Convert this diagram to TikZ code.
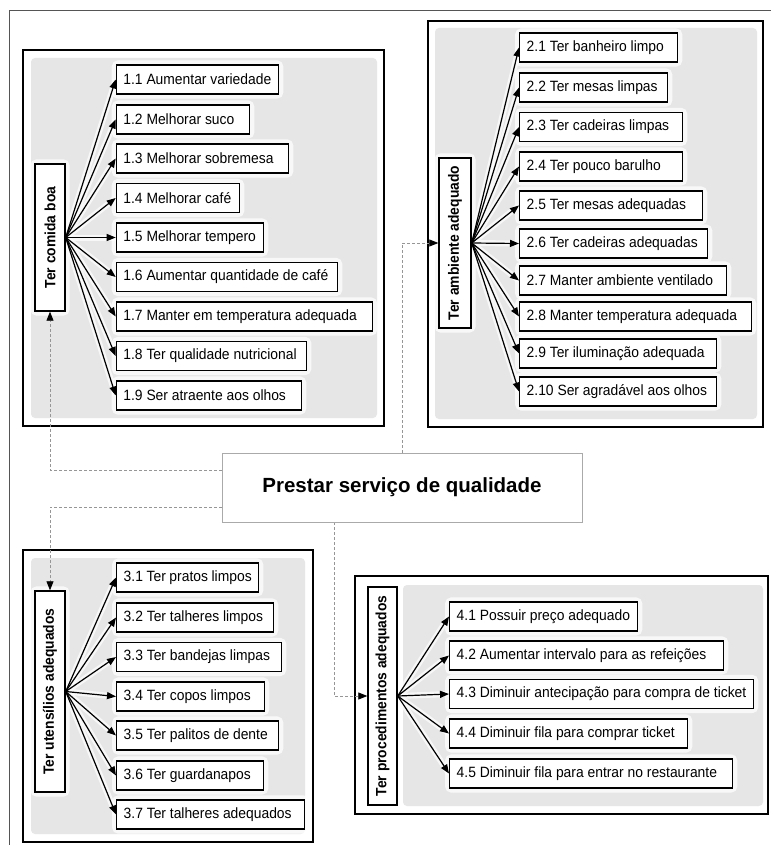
\documentclass[tikz,border=0pt]{standalone}
\usepackage{graphicx}
\usepackage{fontspec}
\setmainfont{Liberation Sans}
\newfontfamily\itemfont[FakeStretch=0.93]{Liberation Sans}
\usetikzlibrary{arrows.meta,calc}
\definecolor{panelgray}{RGB}{230,230,230}
\definecolor{conngray}{RGB}{150,150,150}
\definecolor{framegray}{RGB}{85,85,85}
\definecolor{titlegray}{RGB}{170,170,170}
\pgfdeclarelayer{bg}
\pgfdeclarelayer{halo}
\pgfdeclarelayer{arrowlayer}
\pgfsetlayers{bg,halo,arrowlayer,main}
\tikzset{
  itembox/.style={draw, fill=white, line width=1.4pt, minimum height=29pt,
    inner xsep=7pt, inner ysep=0pt, anchor=west,
    font={\itemfont\fontsize{14.9}{17}\selectfont}},
  vbox/.style={draw, fill=white, line width=1.4pt, inner sep=0pt,
    font={\itemfont\fontsize{14.9}{17}\selectfont\bfseries}},
  boxhalo/.style={draw=white, line width=8pt, opacity=0.75, rounded corners=3pt},
  arrhalo/.style={draw=white, line width=6pt, opacity=0.7},
  arr/.style={draw=black, line width=1.2pt, -{Triangle[length=9pt,width=7pt]}},
  conn/.style={draw=conngray, line width=0.8pt, dash pattern=on 3pt off 2pt,
    -{Triangle[length=9pt,width=7pt,black]}},
  panelborder/.style={draw=black, line width=2pt},
  panelfill/.style={fill=panelgray, rounded corners=4pt},
  titlebox/.style={draw=titlegray, line width=0.8pt, fill=white,
    minimum width=360pt, minimum height=69pt, inner sep=0pt,
    font={\fontsize{20.5}{24}\selectfont\bfseries}}
}
\begin{document}
\begin{tikzpicture}[x=1pt,y=-1pt]
\useasboundingbox (0,0) rectangle (771,845);
\begin{pgfonlayer}{bg}
\fill[white] (0,0) rectangle (771,845);
\draw[framegray, line width=1pt] (9,845) -- (9,11) -- (771,11);
% panels
\fill[panelfill] (31,58) rectangle (377,418);
\draw[panelborder] (23,50) rectangle (384,426);
\fill[panelfill] (435,28) rectangle (757,419);
\draw[panelborder] (428,21) rectangle (763,427);
\fill[panelfill] (31,558) rectangle (305,834);
\draw[panelborder] (23,550) rectangle (313,842);
\fill[panelfill] (403,585) rectangle (763,806);
\draw[panelborder] (355,576) rectangle (768,814);
\end{pgfonlayer}

% title
\node[titlebox] (T) at (402,487.5) {Prestar serviço de qualidade};

% vertical nodes
\node[vbox, minimum width=30pt, minimum height=147pt] (V1) at (50,237.5) {\rotatebox{90}{Ter comida boa}};
\node[vbox, minimum width=32pt, minimum height=170pt] (V2) at (455,243) {\rotatebox{90}{Ter ambiente adequado}};
\node[vbox, minimum width=30pt, minimum height=201pt] (V3) at (50,691.5) {\rotatebox{90}{Ter utensílios adequados}};
\node[vbox, minimum width=29pt, minimum height=218pt] (V4) at (382.5,696) {\rotatebox{90}{Ter procedimentos adequados}};
\begin{pgfonlayer}{halo}
\foreach \v in {V1,V2,V3,V4} {
  \draw[boxhalo] (\v.south west) rectangle (\v.north east);
}
\end{pgfonlayer}

% panel 1 items
\foreach \i/\cy/\r/\t in {
  1/79.5/278/{1.1 Aumentar variedade},
  2/119.5/249/{1.2 Melhorar suco},
  3/158.5/288/{1.3 Melhorar sobremesa},
  4/198/239/{1.4 Melhorar café},
  5/237.5/263/{1.5 Melhorar tempero},
  6/277/337/{1.6 Aumentar quantidade de café},
  7/316.5/372/{1.7 Manter em temperatura adequada},
  8/356/306/{1.8 Ter qualidade nutricional},
  9/395.5/301/{1.9 Ser atraente aos olhos}} {
  \pgfmathsetmacro\tw{\r-115.7-14}
  \node[itembox] (a\i) at (115.7,\cy) {\hbox to \tw pt{\t\hfil}};
  \begin{pgfonlayer}{halo}
    \draw[boxhalo] (a\i.south west) rectangle (a\i.north east);
    \draw[arrhalo] (V1.east) -- (a\i.west);
  \end{pgfonlayer}
  \begin{pgfonlayer}{arrowlayer}
    \draw[arr] (V1.east) -- (a\i.west);
  \end{pgfonlayer}
}

% panel 2 items
\foreach \i/\cy/\r/\t in {
  1/47.5/677/{2.1 Ter banheiro limpo},
  2/87.5/667/{2.2 Ter mesas limpas},
  3/127/682/{2.3 Ter cadeiras limpas},
  4/166.5/682/{2.4 Ter pouco barulho},
  5/205.5/702/{2.5 Ter mesas adequadas},
  6/243.5/707/{2.6 Ter cadeiras adequadas},
  7/280.5/726/{2.7 Manter ambiente ventilado},
  8/316.5/751/{2.8 Manter temperatura adequada},
  9/353.5/716/{2.9 Ter iluminação adequada},
  10/391.5/716/{2.10 Ser agradável aos olhos}} {
  \pgfmathsetmacro\tw{\r-519-14}
  \node[itembox] (b\i) at (519,\cy) {\hbox to \tw pt{\t\hfil}};
  \begin{pgfonlayer}{halo}
    \draw[boxhalo] (b\i.south west) rectangle (b\i.north east);
    \draw[arrhalo] (V2.east) -- (b\i.west);
  \end{pgfonlayer}
  \begin{pgfonlayer}{arrowlayer}
    \draw[arr] (V2.east) -- (b\i.west);
  \end{pgfonlayer}
}

% panel 3 items
\foreach \i/\cy/\r/\t in {
  1/577.5/258/{3.1 Ter pratos limpos},
  2/617.5/273/{3.2 Ter talheres limpos},
  3/657/281/{3.3 Ter bandejas limpas},
  4/696.5/264/{3.4 Ter copos limpos},
  5/735.5/278/{3.5 Ter palitos de dente},
  6/775.5/263/{3.6 Ter guardanapos},
  7/814.5/304/{3.7 Ter talheres adequados}} {
  \pgfmathsetmacro\tw{\r-116-14}
  \node[itembox] (c\i) at (116,\cy) {\hbox to \tw pt{\t\hfil}};
  \begin{pgfonlayer}{halo}
    \draw[boxhalo] (c\i.south west) rectangle (c\i.north east);
    \draw[arrhalo] (V3.east) -- (c\i.west);
  \end{pgfonlayer}
  \begin{pgfonlayer}{arrowlayer}
    \draw[arr] (V3.east) -- (c\i.west);
  \end{pgfonlayer}
}

% panel 4 items
\foreach \i/\cy/\r/\t in {
  1/616.5/637/{4.1 Possuir preço adequado},
  2/655.5/723/{4.2 Aumentar intervalo para as refeições},
  3/694/753/{4.3 Diminuir antecipação para compra de ticket},
  4/733.5/687/{4.4 Diminuir fila para comprar ticket},
  5/773.5/732/{4.5 Diminuir fila para entrar no restaurante}} {
  \pgfmathsetmacro\tw{\r-449-14}
  \node[itembox] (d\i) at (449,\cy) {\hbox to \tw pt{\t\hfil}};
  \begin{pgfonlayer}{halo}
    \draw[boxhalo] (d\i.south west) rectangle (d\i.north east);
    \draw[arrhalo] (V4.east) -- (d\i.west);
  \end{pgfonlayer}
  \begin{pgfonlayer}{arrowlayer}
    \draw[arr] (V4.east) -- (d\i.west);
  \end{pgfonlayer}
}

% dashed connectors from title
\begin{pgfonlayer}{arrowlayer}
\draw[conn] ([yshift=17.5pt]T.west) -| (V1.south);
\draw[conn] (T.north) |- (V2.west);
\draw[conn] ([yshift=-19.5pt]T.west) -| (V3.north);
\draw[conn] ([xshift=-68pt]T.south) |- (V4.west);
\end{pgfonlayer}
\end{tikzpicture}
\end{document}
